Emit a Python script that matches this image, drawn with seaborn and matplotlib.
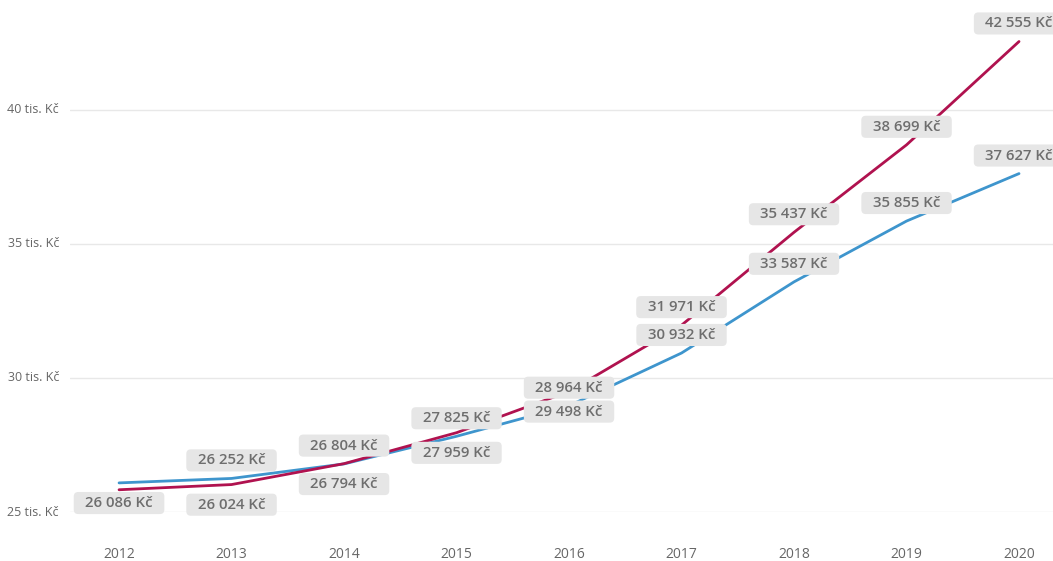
import matplotlib
matplotlib.use("Agg")
import matplotlib.pyplot as plt
from matplotlib.patches import BoxStyle
import seaborn as sns
import pandas as pd

years = [2012, 2013, 2014, 2015, 2016, 2017, 2018, 2019, 2020]
blue_values = [26086, 26252, 26794, 27825, 28964, 30932, 33587, 35855, 37627]
red_values = [25830, 26024, 26804, 27959, 29498, 31971, 35437, 38699, 42555]
# label placement: +1 above the point, -1 below, 0 hidden
blue_place = [-1, 1, -1, 1, 1, 1, 1, 1, 1]
red_place = [0, -1, 1, -1, -1, 1, 1, 1, 1]
y_ticks = [25000, 30000, 35000, 40000]
y_tick_labels = ["25 tis. Kč", "30 tis. Kč", "35 tis. Kč", "40 tis. Kč"]

BLUE = "#3E95CD"
RED = "#B0124F"

df = pd.DataFrame({
    "year": years * 2,
    "value": blue_values + red_values,
    "series": ["blue"] * len(years) + ["red"] * len(years),
})

sns.set_theme(style="white")
plt.rcParams["font.family"] = ["Open Sans", "DejaVu Sans"]

fig = plt.figure(figsize=(10.53, 5.61), dpi=100)
ax = fig.add_axes([70 / 1053, 49 / 561, 1 - 70 / 1053, 1 - 49 / 561])

sns.lineplot(data=df, x="year", y="value", hue="series",
             palette={"blue": BLUE, "red": RED}, linewidth=2.0,
             legend=False, ax=ax)

ax.set_xlim(2011.564, 2020.302)
ax.set_ylim(25000, 44104)
ax.set_xticks(years)
ax.set_xticklabels([str(y) for y in years], fontsize=10, color="#666666")
ax.set_yticks(y_ticks)
ax.set_yticklabels(y_tick_labels, fontsize=9, color="#666666")
ax.tick_params(axis="x", length=0, pad=25)
ax.tick_params(axis="y", length=0, pad=8)
for lbl in ax.get_yticklabels():
    lbl.set_verticalalignment("center")
ax.yaxis.grid(True, color="#E8E8E8", linewidth=1)
ax.xaxis.grid(False)
for s in ax.spines.values():
    s.set_visible(False)
ax.set_xlabel("")
ax.set_ylabel("")

_round = BoxStyle.Round(pad=0.27, rounding_size=0.3)


def wide_box(x0, y0, width, height, mutation_size):
    extra = 0.5 * mutation_size
    return _round(x0 - extra, y0, width + 2 * extra, height, mutation_size)


def fmt(v):
    return f"{v:,}".replace(",", " ") + " Kč"


def add_labels(vals, places):
    for x, v, p in zip(years, vals, places):
        if p == 0:
            continue
        off = 13 if p > 0 else -14.5
        ax.annotate(fmt(v), xy=(x, v), xytext=(0, off), textcoords="offset points",
                    ha="center", va="center", fontsize=10.8, fontweight="semibold",
                    family=["Open Sans", "DejaVu Sans"], color="#6E6E6E",
                    annotation_clip=False, zorder=5,
                    bbox=dict(boxstyle=wide_box, fc="#E6E6E6", ec="none"))


add_labels(blue_values, blue_place)
add_labels(red_values, red_place)

fig.savefig("out.png", dpi=100)
